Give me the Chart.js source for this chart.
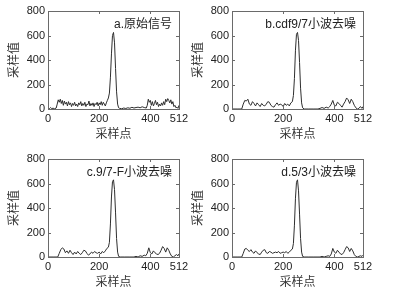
<!DOCTYPE html>
<html>
<head>
<meta charset="utf-8">
<script src="https://cdn.jsdelivr.net/npm/chart.js"></script>
<style>
  body { margin: 0; background: #fff; width: 399px; height: 291px; overflow: hidden; position: relative; }
  canvas { position: absolute; }
</style>
</head>
<body>
<canvas id="grafica-a" width="200" height="145" style="left:0px;top:0px"></canvas>
<canvas id="grafica-b" width="200" height="145" style="left:184px;top:0px"></canvas>
<canvas id="grafica-c" width="200" height="145" style="left:0px;top:148px"></canvas>
<canvas id="grafica-d" width="200" height="145" style="left:184px;top:148px"></canvas>
<script>
// ticks de los ejes
var xTicks = [0, 200, 400, 512];
var yTicks = [0, 200, 400, 600, 800];

// a. senal original (muestras / valores)
var muestrasA = [0,6,10,14,20,26,32,36,40,44,
  48,52,56,60,64,68,72,76,80,84,
  88,92,96,100,104,108,112,116,120,124,
  128,132,136,140,144,148,152,156,160,164,
  168,172,176,180,184,188,192,196,200,204,
  208,212,216,220,224,228,232,236,240,244,
  248,252,256,260,264,268,272,276,280,288,
  296,304,312,320,328,336,344,352,360,368,
  376,384,388,392,396,400,404,408,412,416,
  420,424,428,432,436,440,444,448,452,456,
  460,464,468,472,476,480,484,488,492,496,
  500,504,508,512];
var valoresA = [5,3,12,4,6,2,8,40,75,55,
  80,45,70,30,65,40,55,25,60,35,
  50,20,45,30,55,25,40,20,50,35,
  60,25,45,30,55,20,40,35,65,25,
  45,30,50,20,45,35,55,25,50,35,
  60,30,55,40,25,50,70,90,130,260,
  450,600,625,540,330,140,40,10,5,2,
  8,4,10,6,14,8,12,15,10,18,
  12,8,30,80,55,70,30,60,25,45,
  70,35,55,20,40,25,50,30,60,35,
  80,60,85,70,50,75,40,60,20,30,
  10,15,5,30];

// b, c, d senales filtradas (mismas muestras)
var muestrasF = [0,20,38,44,50,56,62,68,74,80,
  86,92,98,104,110,116,122,128,134,140,
  146,152,158,164,170,176,182,188,194,200,
  206,212,218,224,230,236,240,244,248,252,
  256,260,264,268,272,276,282,300,320,336,
  344,352,360,368,376,382,388,394,400,406,
  412,418,424,430,436,442,448,454,460,466,
  472,478,484,490,496,502,508,512];
var valoresB = [0,0,0,40,70,65,80,40,30,60,
  45,25,50,35,20,45,30,25,40,60,
  55,30,20,15,35,50,30,40,35,20,
  45,30,40,25,50,60,110,250,480,610,
  625,560,380,170,50,10,0,0,0,0,
  5,12,5,15,8,20,40,70,30,25,
  55,45,30,15,40,60,90,75,45,80,
  60,30,10,0,5,20,5,20];
var valoresC = [0,0,0,30,60,75,65,35,50,30,
  55,35,20,40,25,45,30,20,35,55,
  50,30,15,25,40,30,45,35,30,40,
  25,45,35,50,70,80,120,270,490,615,
  630,550,360,150,40,5,0,0,0,0,
  5,0,10,5,15,10,30,75,35,25,
  50,35,25,20,30,55,85,70,40,75,
  55,25,5,0,10,20,10,25];
var valoresD = [0,0,0,30,65,70,55,45,60,40,
  30,50,35,25,20,40,55,60,35,30,
  45,40,30,35,40,35,45,30,35,40,
  35,45,30,40,55,65,110,260,480,610,
  630,540,350,150,40,5,0,0,0,0,
  0,5,0,5,10,5,25,70,40,30,
  55,40,25,20,35,60,85,75,45,70,
  50,20,5,0,5,10,5,15];

var fuente = "'Liberation Sans', Arial, 'Noto Sans CJK SC', sans-serif";
var fuenteCJK = "'Noto Sans CJK SC', sans-serif";

// marco tipo matlab + ticks hacia adentro + etiqueta del panel
var marco = {
  id: 'marco',
  afterDraw: function(chart) {
    var ctx = chart.ctx, a = chart.chartArea;
    var sx = chart.scales.x, sy = chart.scales.y;
    ctx.save();
    ctx.strokeStyle = '#6a6a6a';
    ctx.lineWidth = 1;
    ctx.strokeRect(Math.round(a.left) + 0.5, Math.round(a.top) + 0.5,
      Math.round(a.right - a.left), Math.round(a.bottom - a.top));
    ctx.beginPath();
    xTicks.forEach(function(v) {
      var px = Math.round(sx.getPixelForValue(v)) + 0.5;
      ctx.moveTo(px, a.bottom); ctx.lineTo(px, a.bottom - 3);
      ctx.moveTo(px, a.top); ctx.lineTo(px, a.top + 3);
    });
    yTicks.forEach(function(v) {
      var py = Math.round(sy.getPixelForValue(v)) + 0.5;
      ctx.moveTo(a.left, py); ctx.lineTo(a.left + 3, py);
      ctx.moveTo(a.right, py); ctx.lineTo(a.right - 3, py);
    });
    ctx.stroke();
    // texto dentro de la grafica
    ctx.fillStyle = '#222';
    ctx.font = '12px ' + fuente;
    ctx.textAlign = 'right';
    ctx.textBaseline = 'middle';
    ctx.fillText(chart.options.plugins.marco.texto, a.right - 7, a.top + 14);
    ctx.restore();
  }
};

function grafica(id, muestras, valores, texto) {
  var puntos = muestras.map(function(m, i) { return {x: m, y: valores[i]}; });
  var ctx = document.getElementById(id).getContext('2d');
  return new Chart(ctx, {
    type: 'scatter',
    data: {
      datasets: [{
        data: puntos,
        showLine: true,
        borderColor: '#2e2e2e',
        borderWidth: 1,
        pointRadius: 0,
        tension: 0
      }]
    },
    options: {
      responsive: false,
      animation: false,
      layout: { padding: { top: 11, right: 21, left: 0, bottom: 0 } },
      plugins: { legend: { display: false }, tooltip: { enabled: false }, marco: { texto: texto } },
      scales: {
        x: {
          type: 'linear', min: 0, max: 512,
          afterBuildTicks: function(s) { s.ticks = xTicks.map(function(v) { return {value: v}; }); },
          afterFit: function(s) { s.height = 36; },
          grid: { display: false, drawTicks: false },
          border: { display: false },
          ticks: { font: { size: 11, family: fuente }, color: '#222', padding: 3, maxRotation: 0 },
          title: { display: true, text: '采样点', font: { size: 12, family: fuenteCJK }, color: '#333', padding: { top: 0, bottom: 4 } }
        },
        y: {
          min: 0, max: 800,
          afterBuildTicks: function(s) { s.ticks = yTicks.map(function(v) { return {value: v}; }); },
          afterFit: function(s) { s.width = 48; },
          grid: { display: false, drawTicks: false },
          border: { display: false },
          ticks: { font: { size: 11, family: fuente }, color: '#222', padding: 3 },
          title: { display: true, text: '采样值', font: { size: 12, family: fuenteCJK }, color: '#333', padding: { top: 6, bottom: 0 } }
        }
      }
    },
    plugins: [marco]
  });
}

var graficaA = grafica('grafica-a', muestrasA, valoresA, 'a.原始信号');
var graficaB = grafica('grafica-b', muestrasF, valoresB, 'b.cdf9/7小波去噪');
var graficaC = grafica('grafica-c', muestrasF, valoresC, 'c.9/7-F小波去噪');
var graficaD = grafica('grafica-d', muestrasF, valoresD, 'd.5/3小波去噪');
</script>
</body>
</html>
